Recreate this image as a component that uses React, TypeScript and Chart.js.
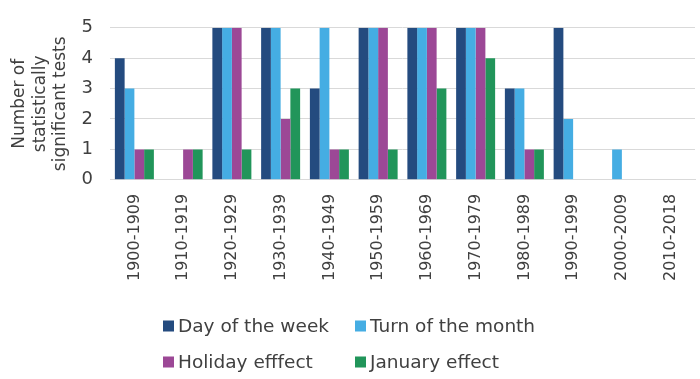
import React, { useEffect, useRef } from "react";
import { Chart, registerables } from "chart.js";

Chart.register(...registerables);

const categories = [
  "1900-1909", "1910-1919", "1920-1929", "1930-1939", "1940-1949", "1950-1959",
  "1960-1969", "1970-1979", "1980-1989", "1990-1999", "2000-2009", "2010-2018",
];
const dayOfWeek = [4, 0, 5, 5, 3, 5, 5, 5, 3, 5, 0, 0];
const turnOfMonth = [3, 0, 5, 5, 5, 5, 5, 5, 3, 2, 1, 0];
const holidayEffect = [1, 1, 5, 2, 1, 5, 5, 5, 1, 0, 0, 0];
const januaryEffect = [1, 1, 1, 3, 1, 1, 3, 4, 1, 0, 0, 0];
const seriesNames = ["Day of the week", "Turn of the month", "Holiday efffect", "January effect"];
const seriesColors = ["#244B7F", "#45ADE3", "#9C4896", "#21955A"];
const yTitle = ["Number of", "statistically", "significant tests"];

const FONT = "'DejaVu Sans', Verdana, sans-serif";
const TEXT = "#404040";

const gridLegend = {
  id: "gridLegend",
  afterDraw(chart: any) {
    const ctx = chart.ctx;
    const colX = [163, 355];
    const rowY = [326, 362];
    ctx.save();
    ctx.font = `18.5px ${FONT}`;
    ctx.textBaseline = "middle";
    ctx.textAlign = "left";
    chart.data.datasets.forEach((ds: any, i: number) => {
      const x = colX[i % 2];
      const y = rowY[Math.floor(i / 2)];
      ctx.fillStyle = ds.backgroundColor;
      ctx.fillRect(x, y - 5.5, 11, 11);
      ctx.fillStyle = TEXT;
      ctx.fillText(ds.label, x + 15, y + 1);
    });
    ctx.restore();
  },
};

export default function App() {
  const ref = useRef<HTMLCanvasElement>(null);
  useEffect(() => {
    document.body.style.margin = "0";
    const data = [dayOfWeek, turnOfMonth, holidayEffect, januaryEffect];
    const chart = new Chart(ref.current!, {
      type: "bar",
      data: {
        labels: categories,
        datasets: data.map((d, i) => ({
          label: seriesNames[i],
          data: d,
          backgroundColor: seriesColors[i],
          borderWidth: 0,
          categoryPercentage: 0.8,
          barPercentage: 1.0,
        })),
      },
      options: {
        animation: false,
        responsive: false,
        maintainAspectRatio: false,
        layout: { padding: { top: 22, right: 5, bottom: 92, left: 9 } },
        plugins: {
          legend: { display: false },
          tooltip: { enabled: false },
        },
        scales: {
          x: {
            grid: { display: false },
            border: { color: "#d9d9d9", width: 1 },
            ticks: {
              color: TEXT,
              font: { family: FONT, size: 16 },
              minRotation: 90,
              maxRotation: 90,
              padding: 6,
            },
          },
          y: {
            min: 0,
            max: 5,
            afterFit: (scale: any) => {
              scale.width = 101;
            },
            grid: { color: "#d9d9d9", drawTicks: false },
            border: { display: false },
            ticks: {
              stepSize: 1,
              color: TEXT,
              font: { family: FONT, size: 18 },
              padding: 17,
            },
            title: {
              display: true,
              text: yTitle,
              color: TEXT,
              font: { family: FONT, size: 17, lineHeight: 1.22 },
              padding: { top: 0, bottom: 0 },
            },
          },
        },
      },
      plugins: [gridLegend],
    });
    return () => chart.destroy();
  }, []);
  return (
    <div style={{ width: 700, height: 379 }}>
      <canvas ref={ref} width={700} height={379} style={{ width: 700, height: 379, display: "block" }} />
    </div>
  );
}
